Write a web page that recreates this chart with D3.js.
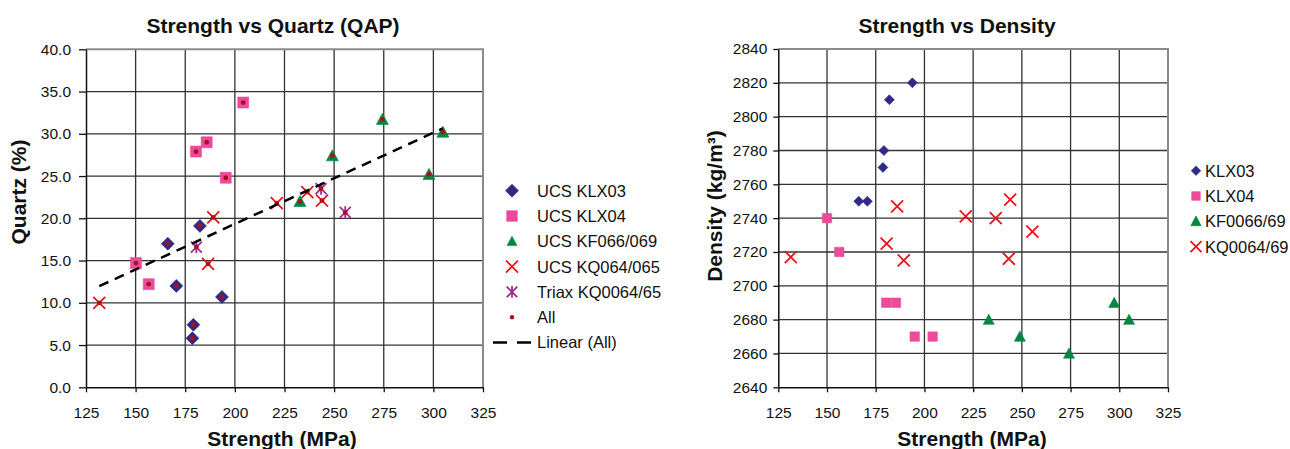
<!DOCTYPE html>
<html>
<head>
<meta charset="utf-8">
<script src="https://cdn.jsdelivr.net/npm/d3@7"></script>
<style>
  body { margin: 0; background: #fff; }
  svg { display: block; font-family: "Liberation Sans", Arial, sans-serif; }
  .tick text { fill: #111; }
</style>
</head>
<body>
<svg width="1290" height="449"></svg>
<script>
// --- data ---
var xTicks = [125, 150, 175, 200, 225, 250, 275, 300, 325];
var quartzTicks = [0, 5, 10, 15, 20, 25, 30, 35, 40];
var densityTicks = [2640, 2660, 2680, 2700, 2720, 2740, 2760, 2780, 2800, 2820, 2840];

// Strength vs Quartz
var klx03Strength = [166.2, 182.4, 170.5, 193.5, 179.1, 178.6];
var klx03Quartz   = [17.0, 19.1, 12.0, 10.7, 7.4, 5.8];
var klx04Strength = [204.2, 185.8, 180.4, 195.4, 150.2, 156.6];
var klx04Quartz   = [33.7, 29.0, 27.9, 24.8, 14.7, 12.2];
var kf066Strength = [274.3, 304.8, 249.1, 297.8, 232.8];
var kf066Quartz   = [31.7, 30.2, 27.4, 25.2, 22.0];
var kq064Strength = [131.7, 189.1, 186.5, 221.1, 236.5, 243.9];
var kq064Quartz   = [10.0, 20.1, 14.6, 21.8, 23.1, 22.1];
var triaxStrength = [180.6, 243.4, 255.6];
var triaxQuartz   = [16.6, 23.5, 20.7];

// Strength vs Density
var dKlx03Strength = [193.8, 182.0, 179.2, 178.7, 166.3, 170.7];
var dKlx03Density  = [2820, 2810, 2780, 2770, 2750, 2750];
var dKlx04Strength = [150.0, 156.3, 180.4, 185.4, 195.0, 204.2];
var dKlx04Density  = [2740, 2720, 2690, 2690, 2670, 2670];
var dKf066Strength = [233.0, 249.0, 274.2, 297.4, 305.0];
var dKf066Density  = [2680, 2670, 2660, 2690, 2680];
var dKq064Strength = [131.4, 186.0, 180.6, 189.4, 221.2, 236.6, 244.0, 255.4, 243.3];
var dKq064Density  = [2717, 2747, 2725, 2715, 2741, 2740, 2751, 2732, 2716];

var colors = {
    klx03: "#2f2a85",
    klx04: "#ec4a9b",
    kf066: "#00873f",
    kq064: "#e8141c",
    triax: "#9e2f90",
    all: "#a3141c"
};

var svg = d3.select("svg");

function zip(xs, ys) {
    return xs.map(function(x, i) { return [x, ys[i]]; });
}

// marker shapes, centred on 0,0
function markerPath(kind, s) {
    if (kind === "diamond") return `M0,${-s}L${s},0L0,${s}L${-s},0Z`;
    if (kind === "square") return `M${-s},${-s}H${s}V${s}H${-s}Z`;
    if (kind === "triangle") return `M0,${-s}L${s},${s * 0.85}L${-s},${s * 0.85}Z`;
    if (kind === "x") return `M${-s},${-s}L${s},${s}M${-s},${s}L${s},${-s}`;
    if (kind === "star") return `M${-s},${-s}L${s},${s}M${-s},${s}L${s},${-s}M0,${-s * 1.1}V${s * 1.1}`;
}

function drawMarkers(g, pts, kind, size, color, x, y) {
    var stroked = (kind === "x" || kind === "star");
    g.selectAll(null)
      .data(pts)
      .enter()
      .append("path")
        .attr("transform", d => `translate(${x(d[0])},${y(d[1])})`)
        .attr("d", markerPath(kind, size))
        .attr("fill", stroked ? "none" : color)
        .attr("stroke", color)
        .attr("stroke-width", stroked ? 1.8 : 0.6);
}

function drawFrame(x, y, yTickVals, yFormat, ySize, yPad) {
    var g = svg.append("g");
    var x0 = x.range()[0], x1 = x.range()[1];
    var y0 = y.range()[0], y1 = y.range()[1];

    // grid
    g.selectAll(null).data(xTicks.slice(1, -1)).enter().append("line")
        .attr("x1", d => x(d)).attr("x2", d => x(d))
        .attr("y1", y1).attr("y2", y0)
        .attr("stroke", "#333").attr("stroke-width", 1.3);
    g.selectAll(null).data(yTickVals.slice(1, -1)).enter().append("line")
        .attr("x1", x0).attr("x2", x1)
        .attr("y1", d => y(d)).attr("y2", d => y(d))
        .attr("stroke", "#333").attr("stroke-width", 1.3);

    // grey border top and right
    g.append("path")
        .attr("d", `M${x0},${y1}H${x1}V${y0}`)
        .attr("fill", "none").attr("stroke", "#8a8a8a").attr("stroke-width", 2);

    var xAxis = d3.axisBottom(x).tickValues(xTicks).tickSize(5).tickSizeOuter(0).tickPadding(15);
    var ax = svg.append("g")
        .attr("transform", `translate(0,${y0})`)
        .call(xAxis);
    ax.selectAll("text").style("font-size", "15.5px");

    var yAxis = d3.axisLeft(y).tickValues(yTickVals).tickFormat(d3.format(yFormat))
        .tickSize(ySize).tickSizeOuter(0).tickPadding(yPad);
    var ay = svg.append("g")
        .attr("transform", `translate(${x0},0)`)
        .call(yAxis);
    ay.selectAll("text").style("font-size", "15.5px");

    svg.selectAll(".domain").attr("stroke", "#111").attr("stroke-width", 1.5);
    svg.selectAll(".tick line").attr("stroke", "#111").attr("stroke-width", 1.3);
}

function label(txt, x, y, size, rotate) {
    var t = svg.append("text")
        .attr("text-anchor", "middle")
        .attr("font-weight", "bold")
        .attr("font-size", size + "px")
        .attr("fill", "#111");
    if (rotate) t.attr("transform", `translate(${x},${y}) rotate(-90)`);
    else t.attr("x", x).attr("y", y);
    return t.text(txt);
}

// ---------- left chart: Strength vs Quartz ----------
var xL = d3.scaleLinear().domain([125, 325]).range([86, 483]);
var yL = d3.scaleLinear().domain([0, 40]).range([387.3, 49.3]);
drawFrame(xL, yL, quartzTicks, ".1f", 7, 8);

var allX = [].concat(klx03Strength, klx04Strength, kf066Strength, kq064Strength, triaxStrength);
var allY = [].concat(klx03Quartz, klx04Quartz, kf066Quartz, kq064Quartz, triaxQuartz);

// least squares fit for "Linear (All)"
var mx = d3.mean(allX), my = d3.mean(allY);
var slope = d3.sum(allX, (v, i) => (v - mx) * (allY[i] - my)) / d3.sum(allX, v => (v - mx) * (v - mx));
var intercept = my - slope * mx;
var fitX = d3.extent(allX);

var gL = svg.append("g");
drawMarkers(gL, zip(klx03Strength, klx03Quartz), "diamond", 6.5, colors.klx03, xL, yL);
drawMarkers(gL, zip(klx04Strength, klx04Quartz), "square", 5.5, colors.klx04, xL, yL);
drawMarkers(gL, zip(kf066Strength, kf066Quartz), "triangle", 6, colors.kf066, xL, yL);
drawMarkers(gL, zip(kq064Strength, kq064Quartz), "x", 6, colors.kq064, xL, yL);
drawMarkers(gL, zip(triaxStrength, triaxQuartz), "star", 5.5, colors.triax, xL, yL);

gL.selectAll(null)
  .data(zip(allX, allY))
  .enter()
  .append("circle")
    .attr("cx", d => xL(d[0]))
    .attr("cy", d => yL(d[1]))
    .attr("r", 2.4)
    .attr("fill", colors.all);

gL.append("line")
    .attr("x1", xL(fitX[0])).attr("y1", yL(intercept + slope * fitX[0]))
    .attr("x2", xL(fitX[1])).attr("y2", yL(intercept + slope * fitX[1]))
    .attr("stroke", "#000").attr("stroke-width", 2.5)
    .attr("stroke-dasharray", "10,7");

label("Strength vs Quartz (QAP)", 273, 33, 21);
label("Quartz (%)", 26, 192, 21, true);
label("Strength (MPa)", 282, 446, 21);

// legend left
var legL = [
    {name: "UCS KLX03", kind: "diamond", size: 6.5, color: colors.klx03},
    {name: "UCS KLX04", kind: "square", size: 5.3, color: colors.klx04},
    {name: "UCS KF066/069", kind: "triangle", size: 5, color: colors.kf066},
    {name: "UCS KQ064/065", kind: "x", size: 6, color: colors.kq064},
    {name: "Triax KQ0064/65", kind: "star", size: 5.3, color: colors.triax},
    {name: "All", kind: "dot", color: colors.all},
    {name: "Linear (All)", kind: "line"}
];
legL.forEach(function(d, i) {
    var yy = 190.7 + i * 25.3;
    if (d.kind === "dot") {
        svg.append("circle").attr("cx", 512).attr("cy", yy).attr("r", 2.2).attr("fill", d.color);
    } else if (d.kind === "line") {
        svg.append("line").attr("x1", 493).attr("x2", 532).attr("y1", yy).attr("y2", yy)
            .attr("stroke", "#000").attr("stroke-width", 2.5).attr("stroke-dasharray", "14,10");
    } else {
        var stroked = (d.kind === "x" || d.kind === "star");
        svg.append("path")
            .attr("transform", `translate(512,${yy})`)
            .attr("d", markerPath(d.kind, d.size))
            .attr("fill", stroked ? "none" : d.color)
            .attr("stroke", d.color)
            .attr("stroke-width", stroked ? 1.8 : 0.6);
    }
    svg.append("text")
        .attr("x", 537).attr("y", yy).attr("dy", "0.36em")
        .attr("font-size", "16.5px").attr("fill", "#111")
        .text(d.name);
});

// ---------- right chart: Strength vs Density ----------
var xR = d3.scaleLinear().domain([125, 325]).range([778.3, 1168]);
var yR = d3.scaleLinear().domain([2640, 2840]).range([387.3, 49]);
drawFrame(xR, yR, densityTicks, "d", 5, 6);

var gR = svg.append("g");
drawMarkers(gR, zip(dKlx03Strength, dKlx03Density), "diamond", 5, colors.klx03, xR, yR);
drawMarkers(gR, zip(dKlx04Strength, dKlx04Density), "square", 4.7, colors.klx04, xR, yR);
drawMarkers(gR, zip(dKf066Strength, dKf066Density), "triangle", 5.5, colors.kf066, xR, yR);
drawMarkers(gR, zip(dKq064Strength, dKq064Density), "x", 6, colors.kq064, xR, yR);

label("Strength vs Density", 957, 33, 21);
label("Density (kg/m\u00B3)", 722, 206, 21, true);
label("Strength (MPa)", 972, 446, 21);

var legR = [
    {name: "KLX03", kind: "diamond", size: 4.8, color: colors.klx03},
    {name: "KLX04", kind: "square", size: 4.3, color: colors.klx04},
    {name: "KF0066/69", kind: "triangle", size: 5.2, color: colors.kf066},
    {name: "KQ0064/69", kind: "x", size: 5.5, color: colors.kq064}
];
legR.forEach(function(d, i) {
    var yy = 170.7 + i * 25.3;
    var stroked = (d.kind === "x");
    svg.append("path")
        .attr("transform", `translate(1196,${yy})`)
        .attr("d", markerPath(d.kind, d.size))
        .attr("fill", stroked ? "none" : d.color)
        .attr("stroke", d.color)
        .attr("stroke-width", stroked ? 1.8 : 0.6);
    svg.append("text")
        .attr("x", 1205).attr("y", yy).attr("dy", "0.36em")
        .attr("font-size", "16.5px").attr("fill", "#111")
        .text(d.name);
});
</script>
</body>
</html>
